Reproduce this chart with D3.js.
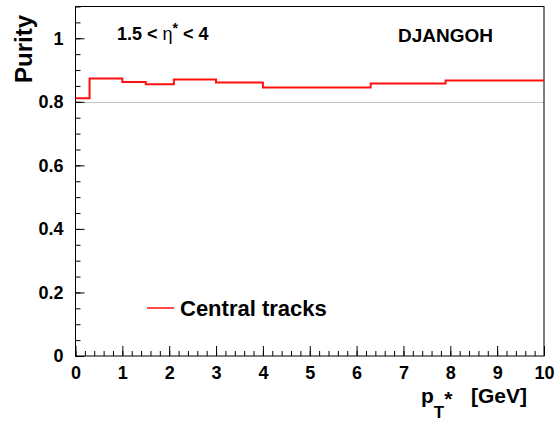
<!DOCTYPE html>
<html>
<head>
<meta charset="utf-8">
<script src="https://cdn.jsdelivr.net/npm/d3@7"></script>
<style>
  body { margin: 0; background: #fff; }
  text { font-family: "Liberation Sans", Arial, sans-serif; font-weight: bold; fill: #000; }
</style>
</head>
<body>
<svg width="555" height="421"></svg>
<script>
// bin edges in pT* [GeV] and purity per bin
var binEdges = [0, 0.3, 1, 1.5, 2.1, 3, 4, 6.3, 7.9, 10];
var purity = [0.811, 0.873, 0.862, 0.855, 0.870, 0.861, 0.845, 0.858, 0.867];
var xTicks = [0, 1, 2, 3, 4, 5, 6, 7, 8, 9, 10];
var yTicks = [0, 0.2, 0.4, 0.6, 0.8, 1];
var refLine = 0.8;

var svg = d3.select("svg"),
    padL = 75.5, padR = 544, padT = 6.5, padB = 356;

var x = d3.scaleLinear().domain([0, 10]).range([padL, padR]);
var y = d3.scaleLinear().domain([0, 1.1]).range([padB, padT]);

// grey reference line
svg.append("line")
    .attr("x1", padL).attr("x2", padR)
    .attr("y1", Math.round(y(refLine)) + 0.5).attr("y2", Math.round(y(refLine)) + 0.5)
    .style("stroke", "#c4c4c4").style("stroke-width", 1);

// minor ticks
var xMinor = svg.append("g").attr("transform", "translate(0," + padB + ")")
    .call(d3.axisBottom(x).tickValues(d3.range(0, 10.01, 0.2)).tickSize(-5).tickFormat(""));
var yMinor = svg.append("g").attr("transform", "translate(" + padL + ",0)")
    .call(d3.axisLeft(y).tickValues(d3.range(0, 1.101, 0.05)).tickSize(-5).tickFormat(""));

// major ticks + labels
var xAxis = svg.append("g").attr("transform", "translate(0," + padB + ")")
    .call(d3.axisBottom(x).tickValues(xTicks).tickSize(-10).tickPadding(10).tickFormat(d3.format("d")));
var yAxis = svg.append("g").attr("transform", "translate(" + padL + ",0)")
    .call(d3.axisLeft(y).tickValues(yTicks).tickSize(-9).tickPadding(12).tickFormat(function (d) { return d === 0 || d === 1 ? d : d.toFixed(1); }));

[xMinor, yMinor, xAxis, yAxis].forEach(function (a) {
    a.select(".domain").remove();
    a.selectAll("line").style("stroke", "#000");
    a.selectAll("text").style("font-size", "18px").style("font-family", "Liberation Sans, Arial, sans-serif").style("font-weight", "bold");
});

// frame
svg.append("rect")
    .attr("x", padL).attr("y", padT)
    .attr("width", padR - padL).attr("height", padB - padT)
    .style("fill", "none").style("stroke", "#000").style("stroke-width", 1);

// histogram step line
var pts = binEdges.map(function (e, i) { return [e, purity[Math.min(i, purity.length - 1)]]; });
var line = d3.line()
    .x(function (d) { return x(d[0]); })
    .y(function (d) { return y(d[1]); })
    .curve(d3.curveStepAfter);
svg.append("path")
    .attr("d", line(pts))
    .style("fill", "none").style("stroke", "#ff1010").style("stroke-width", 2);

// legend
svg.append("line")
    .attr("x1", 147).attr("x2", 174).attr("y1", 308).attr("y2", 308)
    .style("stroke", "#ff1010").style("stroke-width", 1.5);
svg.append("text").attr("x", 180).attr("y", 316)
    .style("font-size", "22px").text("Central tracks");

// labels
var eta = svg.append("text").attr("x", 117).attr("y", 40).style("font-size", "18px");
eta.append("tspan").text("1.5 < ");
eta.append("tspan").style("font-weight", "normal").text("η");
eta.append("tspan").attr("dy", -7).style("font-size", "14px").text("*");
eta.append("tspan").attr("dy", 7).text(" < 4");

svg.append("text").attr("x", 493).attr("y", 42).attr("text-anchor", "end")
    .style("font-size", "19px").text("DJANGOH");

svg.append("text")
    .attr("transform", "translate(32,15) rotate(-90)")
    .attr("text-anchor", "end")
    .style("font-size", "24px").text("Purity");

var xt = svg.append("text").attr("x", 421).attr("y", 403).style("font-size", "21px");
xt.append("tspan").text("p");
xt.append("tspan").attr("dy", 15).style("font-size", "17px").text("T");
xt.append("tspan").attr("dy", -12).text("*");
svg.append("text").attr("x", 527).attr("y", 403).attr("text-anchor", "end")
    .style("font-size", "21px").text("[GeV]");
</script>
</body>
</html>
